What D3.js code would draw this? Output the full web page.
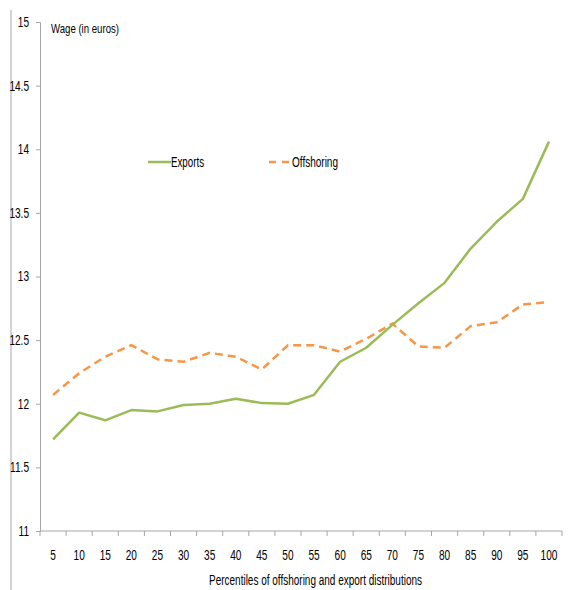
<!DOCTYPE html>
<html>
<head>
<meta charset="utf-8">
<script src="https://cdn.jsdelivr.net/npm/d3@7"></script>
<style>
  html, body { margin: 0; padding: 0; background: #fff; }
  svg text { font-family: "Liberation Sans", Arial, sans-serif; fill: #000; }
</style>
</head>
<body>
<svg id="chart" width="568" height="590"></svg>
<script>
// Percentiles of the offshoring / export distributions
const percentiles = [5, 10, 15, 20, 25, 30, 35, 40, 45, 50, 55, 60, 65, 70, 75, 80, 85, 90, 95, 100];

// Average wage (euros) per percentile
const exportsWage = [11.72, 11.93, 11.87, 11.95, 11.94, 11.99, 12.00, 12.04, 12.005, 12.00,
                     12.07, 12.33, 12.44, 12.62, 12.79, 12.95, 13.22, 13.43, 13.61, 14.06];
const offshoringWage = [12.07, 12.24, 12.37, 12.46, 12.35, 12.33, 12.40, 12.37, 12.27, 12.46,
                        12.46, 12.41, 12.51, 12.63, 12.45, 12.44, 12.61, 12.64, 12.78, 12.80];

const yTicks = [11, 11.5, 12, 12.5, 13, 13.5, 14, 14.5, 15];

const svg = d3.select("#chart");

const plotLeft = 40, plotRight = 562, plotTop = 22, plotBottom = 531;

const x = d3.scaleBand().domain(percentiles).range([plotLeft, plotRight]).padding(0);
const y = d3.scaleLinear().domain([11, 15]).range([plotBottom, plotTop]);

const axisColor = "#a6a6a6";

// Narrow the glyphs of a text selection to a condensed look
function condense(sel, factor) {
  sel.each(function () {
    const w = this.getComputedTextLength();
    d3.select(this).attr("textLength", w * factor).attr("lengthAdjust", "spacingAndGlyphs");
  });
}

// Outer frame line on the left edge
svg.append("line")
  .attr("x1", 11).attr("x2", 11).attr("y1", 10).attr("y2", 590)
  .attr("stroke", "#d4d4d4").attr("stroke-width", 2);

// Y axis
const yAxis = svg.append("g")
  .attr("transform", `translate(${plotLeft},0)`)
  .call(d3.axisLeft(y).tickValues(yTicks).tickSize(4).tickPadding(7)
        .tickFormat(d => d3.format("")(d)));
yAxis.select(".domain").attr("stroke", axisColor);
yAxis.selectAll(".tick line").attr("stroke", axisColor);
yAxis.selectAll(".tick text").attr("font-size", 14).attr("font-family", null).call(condense, 0.72);

// X axis: ticks sit on the band boundaries, labels in the band centres
const xAxis = svg.append("g").attr("transform", `translate(0,${plotBottom})`);
xAxis.append("line")
  .attr("x1", plotLeft).attr("x2", plotRight).attr("y1", 0).attr("y2", 0)
  .attr("stroke", axisColor);
const boundaries = percentiles.map(p => x(p)).concat([x(percentiles[percentiles.length - 1]) + x.bandwidth()]);
xAxis.selectAll("line.tick")
  .data(boundaries)
  .join("line")
  .attr("class", "tick")
  .attr("x1", d => d).attr("x2", d => d)
  .attr("y1", 0).attr("y2", 5)
  .attr("stroke", axisColor);
xAxis.selectAll("text.lbl")
  .data(percentiles)
  .join("text")
  .attr("class", "lbl")
  .attr("x", p => x(p) + x.bandwidth() / 2)
  .attr("y", 29)
  .attr("text-anchor", "middle")
  .attr("font-size", 14)
  .text(p => p)
  .call(condense, 0.72);

// Axis titles
svg.append("text")
  .attr("x", 51).attr("y", 33)
  .attr("font-size", 13.5)
  .attr("textLength", 68).attr("lengthAdjust", "spacingAndGlyphs")
  .text("Wage (in euros)");
svg.append("text")
  .attr("x", 209).attr("y", 585)
  .attr("font-size", 14)
  .attr("textLength", 213).attr("lengthAdjust", "spacingAndGlyphs")
  .text("Percentiles of offshoring and export distributions");

const line = d3.line()
  .x((d, i) => x(percentiles[i]) + x.bandwidth() / 2)
  .y(d => y(d));

const green = "#9bbb59", orange = "#f79646";

svg.append("path")
  .datum(offshoringWage)
  .attr("d", line)
  .attr("fill", "none")
  .attr("stroke", orange)
  .attr("stroke-width", 2.5)
  .attr("stroke-dasharray", "8,5");

svg.append("path")
  .datum(exportsWage)
  .attr("d", line)
  .attr("fill", "none")
  .attr("stroke", green)
  .attr("stroke-width", 2.5)
  .attr("stroke-linejoin", "round");

// Legend
const legend = svg.append("g");
legend.append("line")
  .attr("x1", 148).attr("x2", 171).attr("y1", 162).attr("y2", 162)
  .attr("stroke", green).attr("stroke-width", 2.5);
legend.append("text")
  .attr("x", 171).attr("y", 167).attr("font-size", 14)
  .attr("textLength", 33).attr("lengthAdjust", "spacingAndGlyphs")
  .text("Exports");
legend.append("line")
  .attr("x1", 269).attr("x2", 290).attr("y1", 162).attr("y2", 162)
  .attr("stroke", orange).attr("stroke-width", 2.5)
  .attr("stroke-dasharray", "7,6");
legend.append("text")
  .attr("x", 292).attr("y", 167).attr("font-size", 14)
  .attr("textLength", 46).attr("lengthAdjust", "spacingAndGlyphs")
  .text("Offshoring");
</script>
</body>
</html>
